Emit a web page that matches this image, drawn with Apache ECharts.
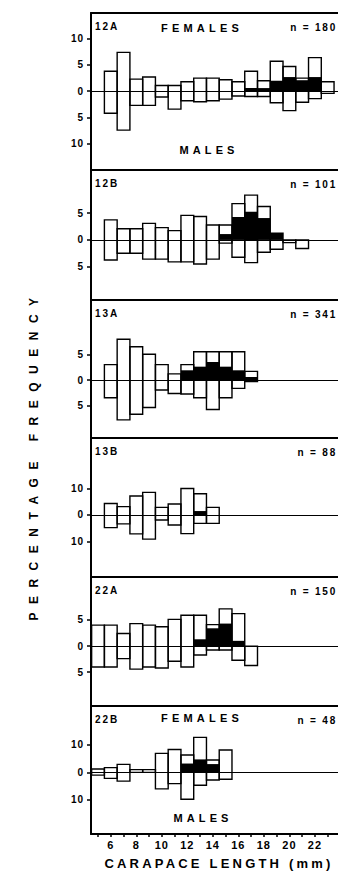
<!DOCTYPE html>
<html>
<head>
<meta charset="utf-8">
<script src="https://cdn.jsdelivr.net/npm/echarts/dist/echarts.min.js"></script>
<style>
html,body{margin:0;padding:0;background:#fff;}
#c{width:338px;height:876px;}
</style>
</head>
<body>
<div id="c"></div>
<script>
// ---------- DATA (percentage frequency by carapace length, mm bin centres) ----------
const xTickValues = [5,6,7,8,9,10,11,12,13,14,15,16,17,18,19,20,21,22,23];
const xLabelValues = [6,8,10,12,14,16,18,20,22];

const bins12A = [6,7,8,9,10,11,12,13,14,15,16,17,18,19,20,21,22,23];
const fem12A  = [3.8,7.4,2.3,2.7,1.1,1.1,1.8,2.5,2.5,2.2,1.8,3.8,2.0,5.7,4.7,2.5,6.4,1.8];
const ovi12A  = [0,0,0,0,0,0,0,0,0,0,0,0.6,0.6,2.0,2.7,2.1,2.7,0];
const mal12A  = [4.2,7.4,2.7,2.7,1.1,3.4,1.8,2.0,1.8,1.5,0.9,1.0,1.0,2.2,3.7,2.1,1.4,0.4];

const bins12B = [6,7,8,9,10,11,12,13,14,15,16,17,18,19,20,21];
const fem12B  = [3.75,2.1,2.1,3.1,2.3,1.75,4.6,4.4,2.8,2.8,6.8,8.4,6.25,1.25,0,0];
const ovi12B  = [0,0,0,0,0,0,0,0,0,1.1,4.3,5.3,4.1,1.25,0,0];
const mal12B  = [3.75,2.5,2.5,3.6,3.6,4.1,4.1,4.5,3.6,0.6,3.25,4.25,2.3,1.75,0.5,1.6];

const bins13A = [6,7,8,9,10,11,12,13,14,15,16,17];
const fem13A  = [3.0,7.9,6.45,5.0,3.0,1.2,3.0,5.5,5.5,5.5,5.5,1.7];
const ovi13A  = [0,0,0,0,0,0,1.9,2.6,3.5,2.6,1.9,0.6];
const mal13A  = [3.4,7.7,6.6,5.3,1.9,2.6,2.7,3.4,5.7,3.4,1.6,0.3];

const bins13B = [6,7,8,9,10,11,12,13,14];
const fem13B  = [4.4,3.2,7.2,8.6,2.9,4.2,10.1,8.1,2.9];
const ovi13B  = [0,0,0,0,0,0,0,1.5,0];
const mal13B  = [4.8,3.4,7.2,9.2,1.9,3.8,7.1,3.2,3.2];

const bins22A = [5,6,7,8,9,10,11,12,13,14,15,16,17];
const fem22A  = [4.0,4.0,2.4,4.3,4.0,3.7,5.1,5.9,5.9,4.1,7.1,6.2,0];
const ovi22A  = [0,0,0,0,0,0,0,0,1.3,3.4,4.3,1.0,0];
const mal22A  = [4.0,4.0,2.4,4.4,4.0,4.2,2.9,4.0,1.7,0.75,0.75,2.7,3.7];

const bins22B = [5,6,7,8,9,10,11,12,13,14,15];
const fem22B  = [1.2,1.7,2.9,1.0,1.0,6.9,8.3,6.3,12.7,4.5,8.1];
const ovi22B  = [0,0,0,0,0,0,0,3.2,4.7,3.0,0];
const mal22B  = [1.0,2.2,3.2,0,0,6.0,4.1,9.8,4.7,2.8,2.5];

const panelNames = ['12A','12B','13A','13B','22A','22B'];
const panelN = ['n = 180','n = 101','n = 341','n = 88','n = 150','n = 48'];
const yTicks12A = [-10,-5,0,5,10];
const yTicks12B = [-5,0,5];
const yTicks13A = [-5,0,5];
const yTicks13B = [-10,0,10];
const yTicks22A = [-5,0,5];
const yTicks22B = [-10,0,10];

// ---------- LAYOUT ----------
const BIN_HALF = 0.5;
const X_MIN = 4.45, X_MAX = 23.81;
const GRID_LEFT = 91, GRID_WIDTH = 247;
const FONT = '"Liberation Sans", Arial, sans-serif';

const panels = [
  {bins:bins12A, fem:fem12A, ovi:ovi12A, mal:mal12A, ticks:yTicks12A, top:13,  height:157, yMin:-15,   yMax:14.9},
  {bins:bins12B, fem:fem12B, ovi:ovi12B, mal:mal12B, ticks:yTicks12B, top:170, height:130, yMin:-11.25,yMax:13.1},
  {bins:bins13A, fem:fem13A, ovi:ovi13A, mal:mal13A, ticks:yTicks13A, top:300, height:138, yMin:-11.2, yMax:15.5},
  {bins:bins13B, fem:fem13B, ovi:ovi13B, mal:mal13B, ticks:yTicks13B, top:438, height:139, yMin:-23.6, yMax:29.3},
  {bins:bins22A, fem:fem22A, ovi:ovi22A, mal:mal22A, ticks:yTicks22A, top:577, height:129, yMin:-11.45,yMax:13.2},
  {bins:bins22B, fem:fem22B, ovi:ovi22B, mal:mal22B, ticks:yTicks22B, top:706, height:128, yMin:-22.4, yMax:24.1}
];

function renderBox(params, api) {
  const x = api.value(0), f = api.value(1), o = api.value(2), m = api.value(3);
  const tl = api.coord([x - BIN_HALF, f]);
  const br = api.coord([x + BIN_HALF, -m]);
  const z = api.coord([x, 0]);
  const ov = api.coord([x, o]);
  const w = br[0] - tl[0];
  const kids = [];
  if (o > 0) {
    kids.push({type:'rect', shape:{x:tl[0], y:ov[1], width:w, height:z[1]-ov[1]}, style:{fill:'#000'}});
  }
  kids.push({type:'rect', shape:{x:tl[0], y:tl[1], width:w, height:br[1]-tl[1]},
             style:{fill:'none', stroke:'#000', lineWidth:1.4}});
  return {type:'group', children:kids};
}

const grids = [], xAxes = [], yAxes = [], series = [], graphics = [];
panels.forEach((p, i) => {
  const last = i === panels.length - 1;
  grids.push({left:GRID_LEFT, top:p.top, width:GRID_WIDTH, height:p.height, show:false});
  // data x axis (bottom); visible only for the last panel
  xAxes.push({
    type:'value', gridIndex:i, min:X_MIN, max:X_MAX, position:'bottom', show:last,
    axisLine:{show:true, onZero:false, lineStyle:{color:'#000', width:2}},
    axisTick:{show:true, customValues:xTickValues, length:3, lineStyle:{color:'#000', width:1.5}},
    axisLabel:{show:true, customValues:xLabelValues, color:'#000', fontSize:11, fontWeight:'bold', fontFamily:FONT, margin:5},
    splitLine:{show:false}
  });
  // top frame line of each panel
  xAxes.push({
    type:'value', gridIndex:i, min:X_MIN, max:X_MAX, position:'top',
    axisLine:{show:true, onZero:false, lineStyle:{color:'#000', width:2}},
    axisTick:{show:false}, axisLabel:{show:false}, splitLine:{show:false}
  });
  yAxes.push({
    type:'value', gridIndex:i, min:p.yMin, max:p.yMax,
    axisLine:{show:true, onZero:false, lineStyle:{color:'#000', width:2}},
    axisTick:{show:true, customValues:p.ticks, length:4, lineStyle:{color:'#000', width:1.5}},
    axisLabel:{show:true, customValues:p.ticks, formatter:v => String(Math.abs(v)),
               color:'#000', fontSize:10, fontWeight:'bold', fontFamily:FONT, margin:7},
    splitLine:{show:false}
  });
  series.push({
    type:'custom', xAxisIndex:i * 2, yAxisIndex:i, renderItem:renderBox, clip:false,
    data:p.bins.map((b, k) => [b, p.fem[k], p.ovi[k], p.mal[k]]),
    silent:true,
    markLine:{silent:true, symbol:['none','none'], label:{show:false},
              lineStyle:{color:'#000', width:1, type:'solid'}, data:[{yAxis:0}]}
  });
  graphics.push({type:'text', x:95, y:p.top + 13, silent:true,
    style:{text:panelNames[i], font:'bold 10px ' + FONT, fill:'#000',
           align:'left', verticalAlign:'middle', textAlign:'left', textVerticalAlign:'middle'}});
  graphics.push({type:'text', x:337, y:p.top + 14, silent:true,
    style:{text:panelN[i], font:'bold 10px ' + FONT, fill:'#000',
           align:'right', verticalAlign:'middle', textAlign:'right', textVerticalAlign:'middle'}});
});

function label(text, x, y, size, rot) {
  return {type:'text', x:x, y:y, rotation:rot || 0, silent:true,
    style:{text:text, font:'bold ' + size + 'px ' + FONT, fill:'#000',
           align:'center', verticalAlign:'middle', textAlign:'center', textVerticalAlign:'middle'}};
}
graphics.push(label('FEMALES', 202, 28, 11));
graphics.push(label('MALES', 209, 150, 11));
graphics.push(label('FEMALES', 202, 718, 11));
graphics.push(label('MALES', 203, 818, 11));
graphics.push(label('PERCENTAGE FREQUENCY', 34, 455, 12, Math.PI / 2));
graphics.push(label('CARAPACE LENGTH (mm)', 219, 863, 13));

const chart = echarts.init(document.getElementById('c'), null, {renderer:'svg'});
chart.setOption({
  animation:false,
  backgroundColor:'#fff',
  grid:grids, xAxis:xAxes, yAxis:yAxes, series:series, graphic:graphics
});

const SPACING = {
  'PERCENTAGE FREQUENCY':8.5, 'CARAPACE LENGTH (mm)':3.2, 'FEMALES':4.2, 'MALES':4.1
};
function applySpacing() {
  document.querySelectorAll('#c svg text').forEach(t => {
    const s = t.textContent.trim();
    if (SPACING[s] !== undefined) t.style.letterSpacing = SPACING[s] + 'px';
    else if (/^n =/.test(s)) t.style.letterSpacing = '1.8px';
    else if (/^\d\d[AB]$/.test(s)) t.style.letterSpacing = '2px';
    else t.style.letterSpacing = '1px';
  });
}
applySpacing();
chart.on('finished', applySpacing);
setTimeout(applySpacing, 0);
setTimeout(applySpacing, 200);
</script>
</body>
</html>
